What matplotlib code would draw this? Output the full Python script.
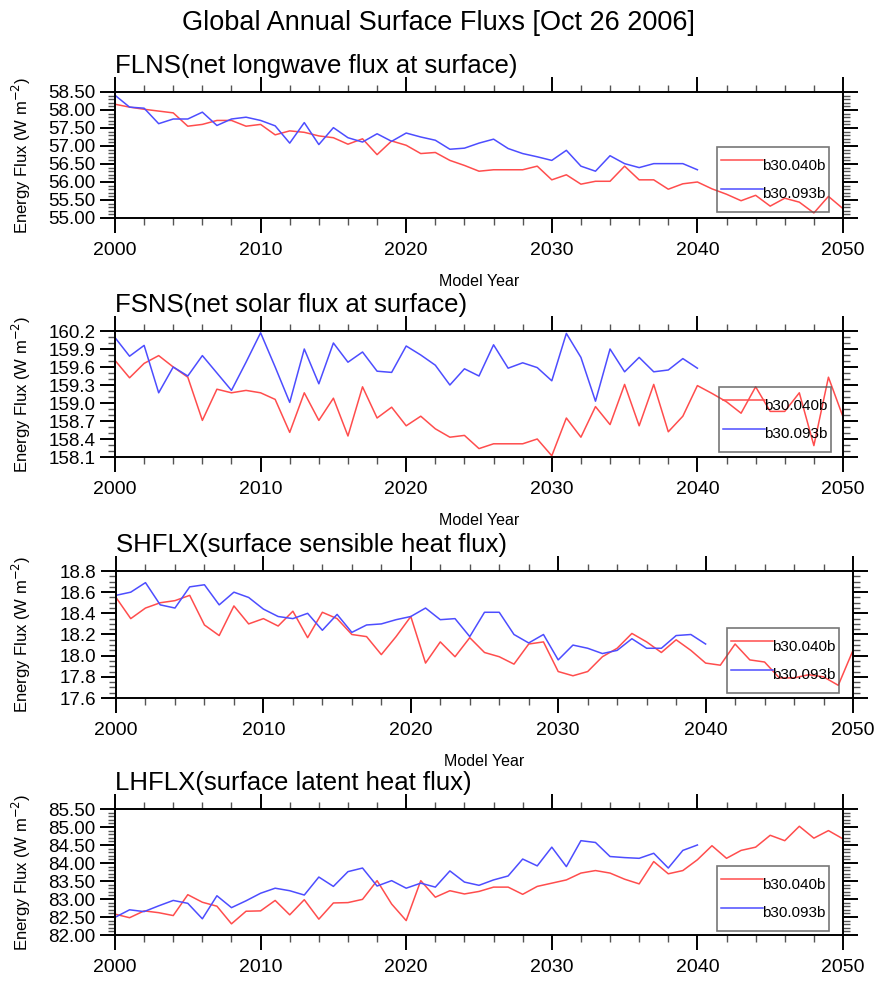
import numpy as np
import matplotlib
matplotlib.use("Agg")
import matplotlib.pyplot as plt
from matplotlib.ticker import MultipleLocator, FormatStrFormatter

plt.rcParams['font.family'] = ['Liberation Sans', 'DejaVu Sans']

# data
years_a = np.arange(2000, 2051)
years_b = np.arange(2000, 2041)
case_a = "b30.040b"
case_b = "b30.093b"

flns_a = [58.16, 58.08, 58.02, 57.97, 57.92, 57.55, 57.60, 57.71, 57.71, 57.55,
          57.60, 57.31, 57.42, 57.38, 57.28, 57.23, 57.05, 57.20, 56.76, 57.14,
          57.02, 56.79, 56.82, 56.60, 56.46, 56.30, 56.34, 56.34, 56.34, 56.44,
          56.06, 56.20, 55.94, 56.02, 56.02, 56.44, 56.06, 56.06, 55.80, 55.95,
          56.00, 55.81, 55.66, 55.48, 55.63, 55.33, 55.55, 55.44, 55.14, 55.60,
          55.26]
flns_b = [58.41, 58.08, 58.05, 57.62, 57.75, 57.75, 57.94, 57.57, 57.75, 57.80,
          57.71, 57.56, 57.08, 57.65, 57.04, 57.51, 57.23, 57.11, 57.34, 57.13,
          57.36, 57.25, 57.16, 56.91, 56.94, 57.08, 57.19, 56.93, 56.79, 56.70,
          56.60, 56.88, 56.44, 56.30, 56.73, 56.51, 56.40, 56.51, 56.51, 56.51,
          56.34]

fsns_a = [159.71, 159.42, 159.66, 159.79, 159.60, 159.43, 158.71, 159.23, 159.17, 159.21,
          159.17, 159.06, 158.51, 159.17, 158.71, 159.08, 158.45, 159.27, 158.75, 158.93,
          158.62, 158.78, 158.57, 158.43, 158.46, 158.24, 158.32, 158.32, 158.32, 158.40,
          158.12, 158.75, 158.43, 158.94, 158.64, 159.31, 158.62, 159.31, 158.52, 158.78,
          159.29, 159.16, 159.02, 158.83, 159.27, 158.86, 158.86, 159.17, 158.29, 159.43,
          158.77]
fsns_b = [160.09, 159.78, 159.96, 159.17, 159.60, 159.45, 159.79, 159.50, 159.21, 159.68,
          160.17, 159.60, 159.01, 159.90, 159.32, 160.00, 159.68, 159.85, 159.53, 159.51,
          159.95, 159.80, 159.63, 159.30, 159.57, 159.45, 159.97, 159.58, 159.67, 159.59,
          159.37, 160.16, 159.76, 159.03, 159.90, 159.52, 159.76, 159.52, 159.55, 159.74,
          159.58]

shflx_a = [18.55, 18.35, 18.45, 18.50, 18.52, 18.57, 18.29, 18.19, 18.47, 18.30,
           18.35, 18.28, 18.42, 18.17, 18.41, 18.35, 18.20, 18.18, 18.01, 18.18,
           18.37, 17.93, 18.13, 17.99, 18.17, 18.03, 17.99, 17.92, 18.11, 18.13,
           17.85, 17.81, 17.85, 17.99, 18.07, 18.21, 18.13, 18.03, 18.15, 18.05,
           17.93, 17.91, 18.11, 17.96, 17.94, 17.79, 17.79, 17.82, 17.80, 17.72,
           18.05]
shflx_b = [18.57, 18.60, 18.69, 18.48, 18.45, 18.65, 18.67, 18.48, 18.60, 18.55,
           18.44, 18.37, 18.35, 18.40, 18.24, 18.39, 18.22, 18.29, 18.30, 18.34,
           18.37, 18.45, 18.34, 18.35, 18.18, 18.41, 18.41, 18.20, 18.12, 18.20,
           17.96, 18.10, 18.07, 18.02, 18.05, 18.16, 18.07, 18.07, 18.19, 18.20,
           18.11]

lhflx_a = [82.58, 82.48, 82.67, 82.62, 82.54, 83.12, 82.91, 82.80, 82.31, 82.66,
           82.67, 82.96, 82.56, 82.98, 82.44, 82.89, 82.90, 82.99, 83.51, 82.86,
           82.40, 83.51, 83.05, 83.23, 83.14, 83.21, 83.33, 83.33, 83.13, 83.35,
           83.44, 83.53, 83.72, 83.79, 83.72, 83.55, 83.42, 84.04, 83.70, 83.79,
           84.09, 84.48, 84.13, 84.35, 84.44, 84.77, 84.62, 85.02, 84.69, 84.90,
           84.67]
lhflx_b = [82.49, 82.70, 82.65, 82.81, 82.96, 82.88, 82.45, 83.09, 82.76, 82.95,
           83.16, 83.30, 83.23, 83.11, 83.61, 83.35, 83.76, 83.86, 83.36, 83.51,
           83.30, 83.44, 83.33, 83.78, 83.47, 83.38, 83.53, 83.64, 84.11, 83.92,
           84.44, 83.90, 84.62, 84.57, 84.18, 84.15, 84.13, 84.27, 83.86, 84.35,
           84.50]

titles = ["FLNS(net longwave flux at surface)",
          "FSNS(net solar flux at surface)",
          "SHFLX(surface sensible heat flux)",
          "LHFLX(surface latent heat flux)"]
series_a = [flns_a, fsns_a, shflx_a, lhflx_a]
series_b = [flns_b, fsns_b, shflx_b, lhflx_b]
ylims = [(55.0, 58.5), (158.1, 160.2), (17.6, 18.8), (82.0, 85.5)]
ymajor = [0.5, 0.3, 0.2, 0.5]
yminor = [0.1, 0.1, 0.05, 0.1]
yfmt = ["%.2f", "%.1f", "%.1f", "%.2f"]

# layout in pixels (left, right, top, bottom) and legend corner
W, H = 876, 984
boxes = [(115, 843, 92, 218), (115, 843, 331, 457), (116, 853, 571, 698), (115, 843, 809, 935)]
legend_xy = [(717, 147), (719, 387), (727, 628), (717, 866)]

red = (1.0, 0.3, 0.3)
blue = (0.3, 0.3, 1.0)

fig = plt.figure(figsize=(W / 100, H / 100), dpi=100)
fig.suptitle("Global Annual Surface Fluxs [Oct 26 2006]", x=0.5, y=1 - 30 / H,
             va="baseline", fontsize=19.5)

for i in range(4):
    l, r, t, b = boxes[i]
    ax = fig.add_axes([l / W, 1 - b / H, (r - l) / W, (b - t) / H])

    ax.plot(years_a, series_a[i], color=red, lw=1.1, label=case_a)
    ax.plot(years_b, series_b[i], color=blue, lw=1.1, label=case_b)

    ax.set_xlim(2000, 2050)
    ax.set_ylim(*ylims[i])
    ax.xaxis.set_major_locator(MultipleLocator(10))
    ax.xaxis.set_minor_locator(MultipleLocator(2))
    ax.yaxis.set_major_locator(MultipleLocator(ymajor[i]))
    ax.yaxis.set_minor_locator(MultipleLocator(yminor[i]))
    ax.yaxis.set_major_formatter(FormatStrFormatter(yfmt[i]))

    ax.tick_params(which="both", direction="out", top=True, right=True)
    ax.tick_params(which="major", length=11, width=1.4)
    ax.tick_params(which="minor", length=5, width=1.0, color="#555555")
    ax.tick_params(axis="x", which="major", pad=6, labelsize=14)
    ax.tick_params(axis="y", which="major", pad=3, labelsize=13.5)
    for s in ax.spines.values():
        s.set_linewidth(1.4)

    ax.set_title(titles[i], loc="left", fontsize=18.5, pad=14)
    ax.set_ylabel("Energy Flux (W m$^{-2}$)", fontsize=12)
    ax.yaxis.set_label_coords(-(l - 33) / (r - l), 0.5)
    if i < 3:
        ax.set_xlabel("Model Year", fontsize=11.5, labelpad=11)

    # legend: transparent box, text sits on the end of the line
    lx, ly = legend_xy[i]
    leg = ax.legend(loc="upper left", bbox_to_anchor=(lx / W, 1 - ly / H),
                    bbox_transform=fig.transFigure, borderaxespad=0,
                    fontsize=11, handlelength=2.75, handleheight=2.5,
                    handletextpad=-0.05, borderpad=0.25, labelspacing=0.0,
                    fancybox=False)
    leg.get_frame().set_facecolor("none")
    leg.get_frame().set_edgecolor("#555555")
    leg.get_frame().set_linewidth(1.2)

fig.savefig("out.png", dpi=100)
